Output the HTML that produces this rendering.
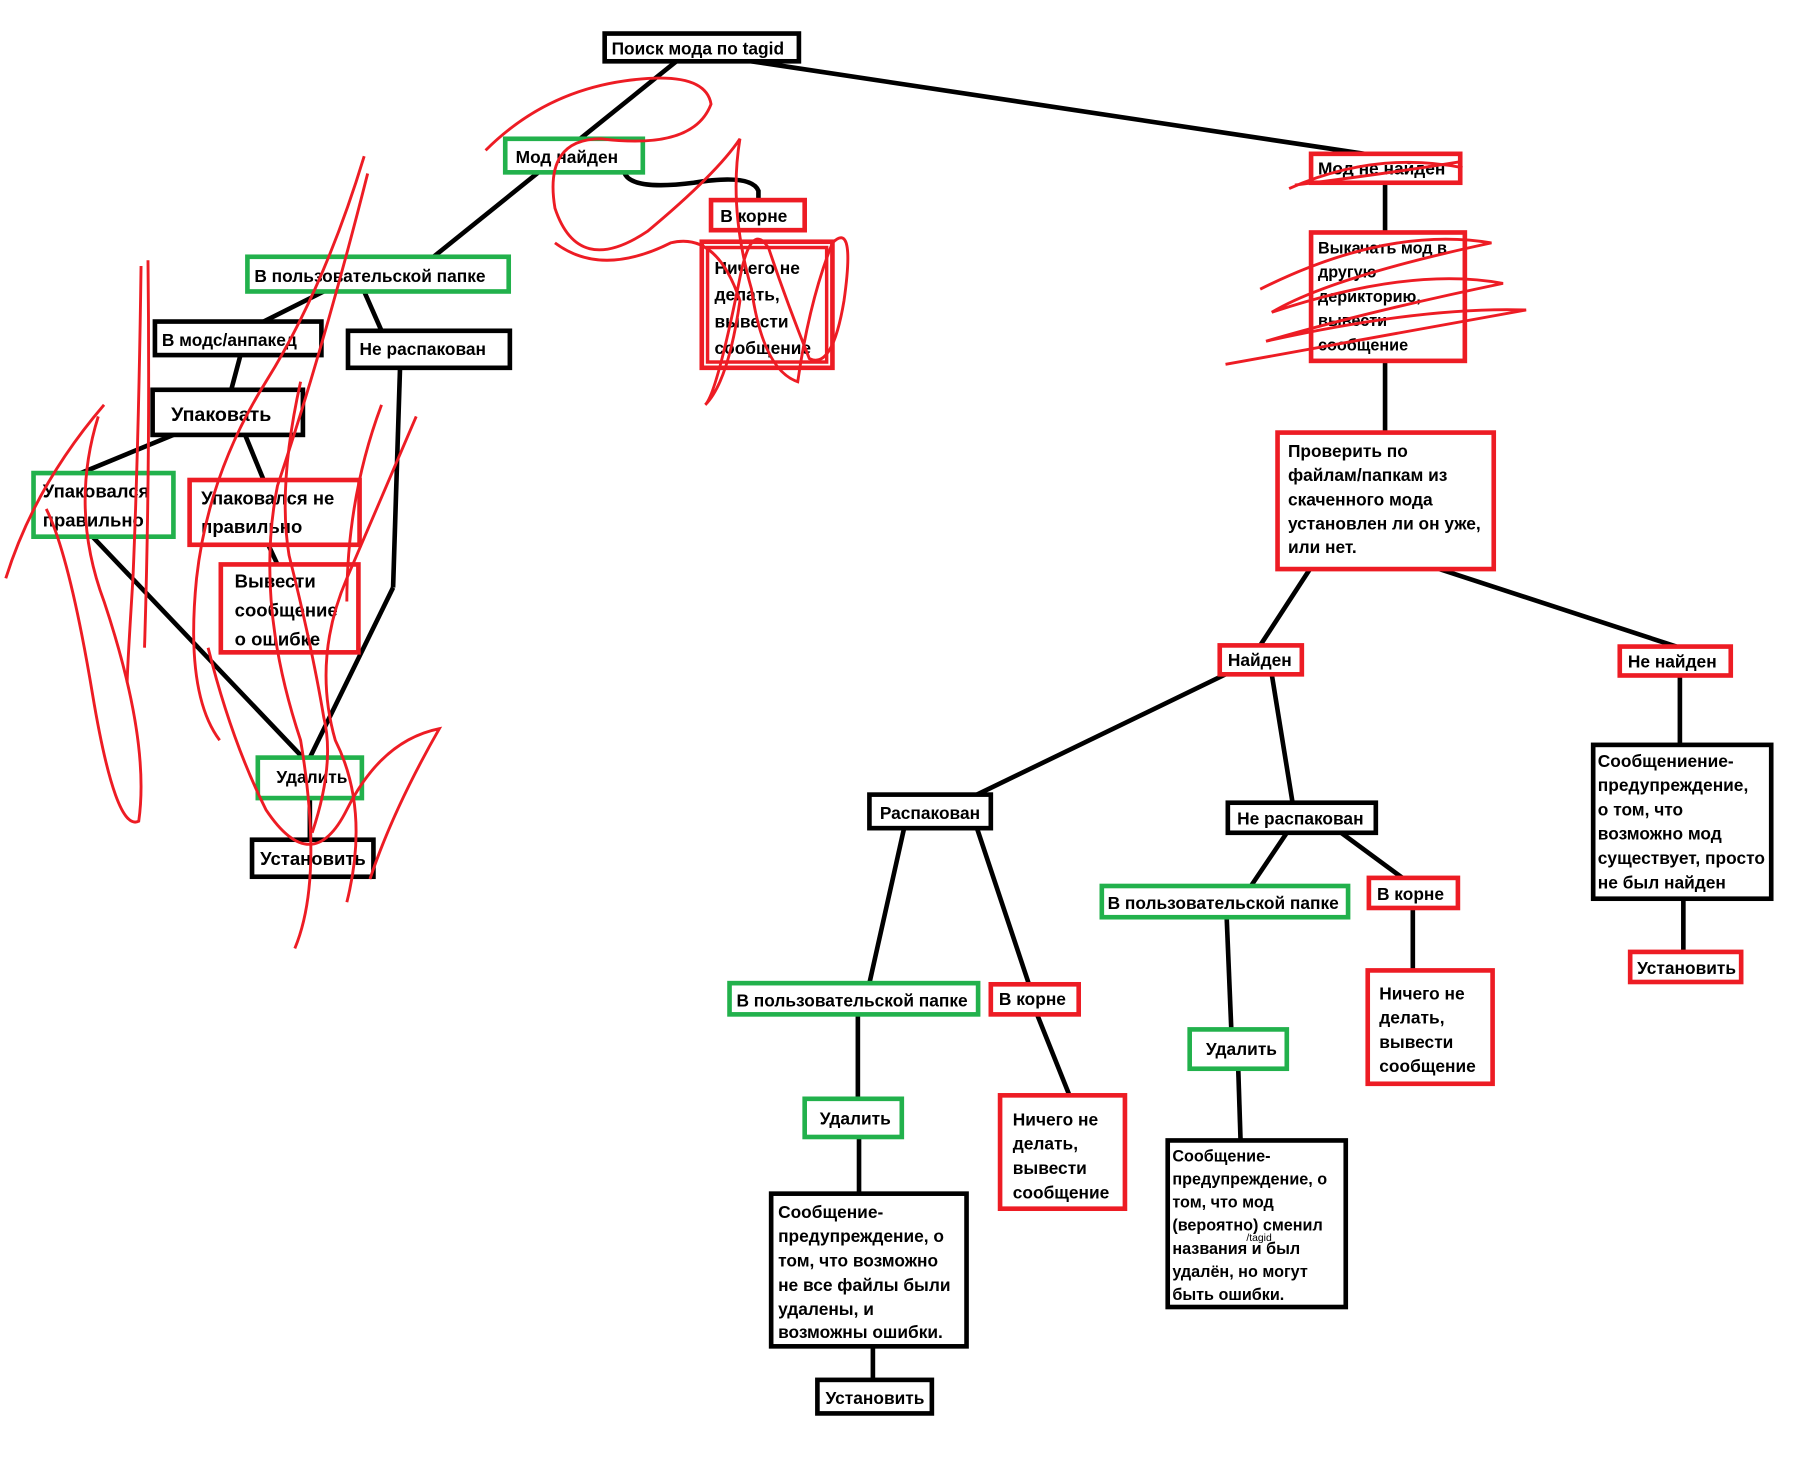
<!DOCTYPE html>
<html><head><meta charset="utf-8"><style>
html,body{margin:0;padding:0;background:#fff;width:1814px;height:1462px;overflow:hidden}
svg{display:block}
text{font-family:"Liberation Sans","DejaVu Sans",sans-serif;font-size:15px;font-weight:bold;fill:#000}
</style></head><body>
<svg width="1814" height="1462" viewBox="0 0 1569 1264" preserveAspectRatio="none" xmlns="http://www.w3.org/2000/svg">
<g stroke="#000" stroke-width="4" fill="none">
<line x1="650" y1="53" x2="1180" y2="133"/>
<line x1="585" y1="53" x2="375" y2="222"/>
<path d="M540 149 Q545 165 600 158 Q650 150 656 165 L656 173"/>
<line x1="1198" y1="158" x2="1198" y2="201"/>
<line x1="1198" y1="312" x2="1198" y2="374"/>
<line x1="1133" y1="492" x2="1090" y2="558"/>
<line x1="1245" y1="492" x2="1450" y2="559"/>
<line x1="1060" y1="583" x2="845" y2="687"/>
<line x1="1100" y1="583" x2="1118" y2="694"/>
<line x1="1453" y1="584" x2="1453" y2="644"/>
<line x1="1456" y1="777" x2="1456" y2="823"/>
<line x1="782" y1="716" x2="752" y2="850"/>
<line x1="845" y1="716" x2="890" y2="851"/>
<line x1="742" y1="877" x2="742" y2="950"/>
<line x1="897" y1="877" x2="925" y2="947"/>
<line x1="743" y1="983" x2="743" y2="1032"/>
<line x1="755" y1="1164" x2="755" y2="1193"/>
<line x1="1113" y1="720" x2="1082" y2="766"/>
<line x1="1160" y1="720" x2="1213" y2="759"/>
<line x1="1061" y1="793" x2="1065" y2="890"/>
<line x1="1222" y1="785" x2="1222" y2="839"/>
<line x1="1071" y1="924" x2="1073" y2="986"/>
<line x1="280" y1="252" x2="228" y2="278"/>
<line x1="315" y1="252" x2="330" y2="286"/>
<line x1="208" y1="307" x2="200" y2="337"/>
<line x1="150" y1="376" x2="70" y2="409"/>
<line x1="212" y1="376" x2="228" y2="415"/>
<line x1="232" y1="471" x2="240" y2="488"/>
<line x1="80" y1="464" x2="262" y2="655"/>
<line x1="346" y1="318" x2="340" y2="508"/>
<line x1="340" y1="508" x2="268" y2="655"/>
<line x1="268" y1="690" x2="268" y2="726"/>
</g>
<g stroke-width="4" fill="#fff">
<rect x="523" y="29" width="168" height="24" stroke="#000"/>
<rect x="437" y="120" width="119" height="29" stroke="#22b14c"/>
<rect x="615" y="173" width="81" height="26" stroke="#ed1c24"/>
<rect x="607" y="209" width="113" height="109" stroke="#ed1c24"/>
<rect x="1134" y="133" width="129" height="25" stroke="#ed1c24"/>
<rect x="1134" y="201" width="133" height="111" stroke="#ed1c24"/>
<rect x="1105" y="374" width="187" height="118" stroke="#ed1c24"/>
<rect x="1055" y="558" width="71" height="25" stroke="#ed1c24"/>
<rect x="1401" y="559" width="96" height="25" stroke="#ed1c24"/>
<rect x="752" y="687" width="105" height="29" stroke="#000"/>
<rect x="1062" y="694" width="128" height="26" stroke="#000"/>
<rect x="953" y="766" width="213" height="27" stroke="#22b14c"/>
<rect x="1184" y="759" width="77" height="26" stroke="#ed1c24"/>
<rect x="1183" y="839" width="108" height="98" stroke="#ed1c24"/>
<rect x="1029" y="890" width="84" height="34" stroke="#22b14c"/>
<rect x="1010" y="986" width="154" height="144" stroke="#000"/>
<rect x="1378" y="644" width="154" height="133" stroke="#000"/>
<rect x="1410" y="823" width="96" height="26" stroke="#ed1c24"/>
<rect x="631" y="850" width="215" height="27" stroke="#22b14c"/>
<rect x="857" y="851" width="76" height="26" stroke="#ed1c24"/>
<rect x="696" y="950" width="84" height="33" stroke="#22b14c"/>
<rect x="865" y="947" width="108" height="98" stroke="#ed1c24"/>
<rect x="667" y="1032" width="169" height="132" stroke="#000"/>
<rect x="707" y="1193" width="99" height="29" stroke="#000"/>
<rect x="214" y="222" width="226" height="30" stroke="#22b14c"/>
<rect x="134" y="278" width="144" height="29" stroke="#000"/>
<rect x="301" y="286" width="140" height="32" stroke="#000"/>
<rect x="132" y="337" width="130" height="39" stroke="#000"/>
<rect x="29" y="409" width="121" height="55" stroke="#22b14c"/>
<rect x="164" y="415" width="147" height="56" stroke="#ed1c24"/>
<rect x="191" y="488" width="119" height="76" stroke="#ed1c24"/>
<rect x="223" y="655" width="90" height="35" stroke="#22b14c"/>
<rect x="218" y="726" width="105" height="32" stroke="#000"/>
</g>
<rect x="612" y="214" width="103" height="99" fill="none" stroke="#ed1c24" stroke-width="3"/>
<g>
<text x="529" y="47">Поиск мода по tagid</text>
<text x="446" y="141">Мод найден</text>
<text x="623" y="192">В корне</text>
<text x="618" y="237">Ничего не</text><text x="618" y="260">делать,</text><text x="618" y="283">вывести</text><text x="618" y="306">сообщение</text>
<text x="1140" y="151">Мод не найден</text>
<text x="1140" y="219" style="font-size:14px">Выкачать мод в</text><text x="1140" y="240" style="font-size:14px">другую</text><text x="1140" y="261" style="font-size:14px">дерикторию,</text><text x="1140" y="282" style="font-size:14px">вывести</text><text x="1140" y="303" style="font-size:14px">сообщение</text>
<text x="1114" y="395">Проверить по</text><text x="1114" y="416">файлам/папкам из</text><text x="1114" y="437">скаченного мода</text><text x="1114" y="458">установлен ли он уже,</text><text x="1114" y="478">или нет.</text>
<text x="1062" y="576">Найден</text>
<text x="1408" y="577">Не найден</text>
<text x="761" y="708">Распакован</text>
<text x="1070" y="713">Не распакован</text>
<text x="958" y="786">В пользовательской папке</text>
<text x="1191" y="778">В корне</text>
<text x="1193" y="864">Ничего не</text><text x="1193" y="885">делать,</text><text x="1193" y="906">вывести</text><text x="1193" y="927">сообщение</text>
<text x="1043" y="912">Удалить</text>
<text x="1014" y="1004" style="font-size:14px">Сообщение-</text><text x="1014" y="1024" style="font-size:14px">предупреждение, о</text><text x="1014" y="1044" style="font-size:14px">том, что мод</text><text x="1014" y="1064" style="font-size:14px">(вероятно) сменил</text><text x="1014" y="1084" style="font-size:14px">названия и был</text><text x="1078" y="1073" style="font-size:9px;font-weight:normal">/tagid</text><text x="1014" y="1104" style="font-size:14px">удалён, но могут</text><text x="1014" y="1124" style="font-size:14px">быть ошибки.</text>
<text x="1382" y="663">Сообщениение-</text><text x="1382" y="684">предупреждение,</text><text x="1382" y="705">о том, что</text><text x="1382" y="726">возможно мод</text><text x="1382" y="747">существует, просто</text><text x="1382" y="768">не был найден</text>
<text x="1416" y="842">Установить</text>
<text x="637" y="870">В пользовательской папке</text>
<text x="864" y="869">В корне</text>
<text x="709" y="972">Удалить</text>
<text x="876" y="973">Ничего не</text><text x="876" y="994">делать,</text><text x="876" y="1015">вывести</text><text x="876" y="1036">сообщение</text>
<text x="673" y="1053">Сообщение-</text><text x="673" y="1074">предупреждение, о</text><text x="673" y="1095">том, что возможно</text><text x="673" y="1116">не все файлы были</text><text x="673" y="1137">удалены, и</text><text x="673" y="1157">возможны ошибки.</text>
<text x="714" y="1214">Установить</text>
<text x="220" y="244">В пользовательской папке</text>
<text x="140" y="299">В модс/анпакед</text>
<text x="311" y="307">Не распакован</text>
<text x="148" y="364" style="font-size:17px">Упаковать</text>
<text x="37" y="430" style="font-size:16px">Упаковался</text><text x="37" y="455" style="font-size:16px">правильно</text>
<text x="174" y="436" style="font-size:16px">Упаковался не</text><text x="174" y="461" style="font-size:16px">правильно</text>
<text x="203" y="508" style="font-size:16px">Вывести</text><text x="203" y="533" style="font-size:16px">сообщение</text><text x="203" y="558" style="font-size:16px">о ошибке</text>
<text x="239" y="677">Удалить</text>
<text x="225" y="748" style="font-size:16px">Установить</text>
</g>
<g stroke="#ed1c24" stroke-width="2.5" fill="none">
<path d="M1115 163 Q1190 130 1265 145 M1120 160 Q1200 150 1262 140"/>
<path d="M1090 250 Q1200 195 1290 210 Q1150 240 1100 270 Q1220 230 1300 245 Q1180 270 1095 295 Q1230 265 1320 268 Q1200 290 1060 315"/>
<path d="M420 130 Q470 80 540 70 Q610 60 615 90 Q600 130 520 120 Q470 120 480 180 Q500 240 560 200 Q620 150 640 120 Q630 180 650 250 Q660 320 690 330 Q700 260 720 210 Q740 190 730 260 Q720 320 700 310 Q680 260 665 215 Q650 190 640 240 Q620 340 610 350 Q630 330 640 260 Q620 200 580 210 Q520 240 480 210"/>
<path d="M315 135 Q280 250 230 330 Q180 410 170 500 Q160 600 190 640 M318 150 Q280 300 240 420 Q220 520 260 640 Q280 760 255 820"/>
<path d="M122 230 Q120 380 115 500 Q110 580 110 590 M128 225 Q130 400 125 560"/>
<path d="M90 350 Q30 420 5 500 M85 360 Q60 440 90 520 Q130 640 120 710 Q100 720 80 600 Q60 480 40 440"/>
<path d="M180 560 Q200 640 230 700 Q270 760 300 700 Q330 640 380 630 Q340 700 320 760"/>
<path d="M360 360 Q330 430 300 500 Q270 570 290 640 Q320 700 300 780 M330 350 Q300 430 300 520"/>
<path d="M260 330 Q240 420 250 480 Q270 560 280 620 Q290 660 270 720"/>
</g>
</svg>
</body></html>
